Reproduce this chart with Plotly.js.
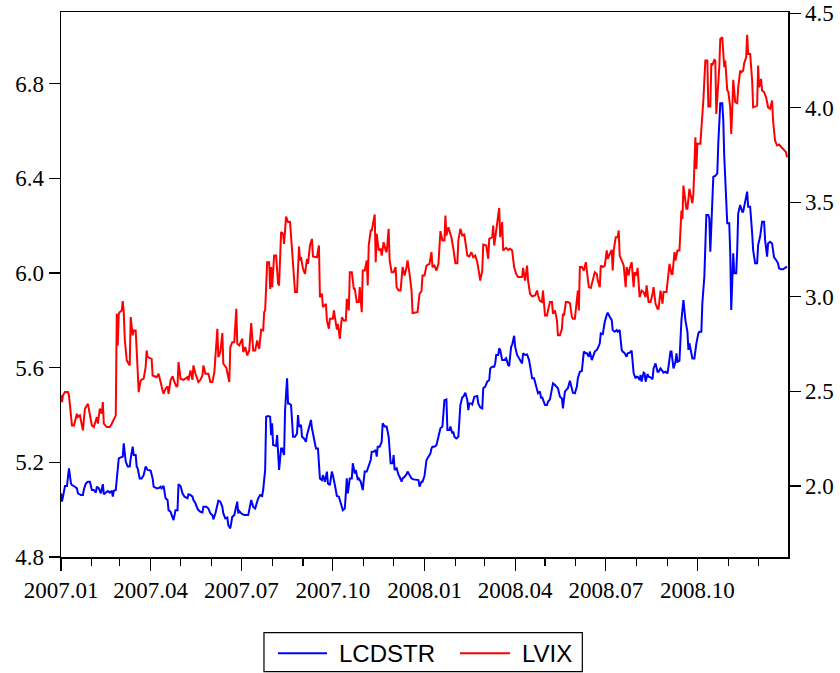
<!DOCTYPE html>
<html>
<head>
<meta charset="utf-8">
<script src="https://cdn.plot.ly/plotly-3.0.1.min.js"></script>
<style>
  html, body { margin: 0; padding: 0; background: #fff; }
  #chart { width: 840px; height: 673px; }
</style>
</head>
<body>
<div id="chart"></div>
<script>
// Days since 2007-01-01 and values
const lvixDays = [0,1,2,4,7,8,11,13,16,17,19,21,22,24,27,31,33,36,37,39,41,42,43,46,49,51,54,55,56,57,58,59,61,62,63,64,66,69,70,72,73,75,77,78,80,83,85,86,87,91,92,96,98,100,102,103,105,107,108,110,112,114,116,117,118,120,123,127,128,130,132,133,135,138,140,142,143,145,148,150,152,154,157,158,160,162,163,166,168,169,170,172,174,175,176,177,179,182,183,185,187,189,191,193,195,197,199,201,203,204,205,207,209,210,211,212,214,216,218,219,221,223,224,226,228,230,232,233,235,237,239,240,241,243,245,247,248,250,252,253,257,259,260,262,263,266,267,269,270,273,274,277,278,280,282,284,286,287,289,290,292,294,295,297,299,300,302,303,305,307,308,309,311,312,313,315,316,317,319,321,322,324,326,327,329,330,332,334,336,337,339,341,343,345,347,348,350,352,353,356,358,360,362,363,365,367,370,372,373,375,377,379,381,383,385,386,387,389,390,392,394,396,398,399,401,403,405,406,408,410,412,414,416,418,419,421,423,424,427,429,430,433,434,435,437,439,440,441,443,444,447,449,451,453,455,457,459,461,463,464,466,468,469,471,473,476,478,479,481,483,484,486,488,489,491,493,494,496,498,499,501,503,504,505,507,509,511,513,514,516,518,519,520,521,523,525,527,528,530,532,534,536,538,539,541,542,544,546,548,549,551,553,554,555,557,559,560,561,563,565,567,568,570,571,573,575,576,578,579,581,583,585,587,588,590,592,594,595,597,599,600,602,604,605,608,609,611,613,614,616,617,619,621,623,624,625,628,629,631,632,634,635,637,638,639,642,644,645,647,649,650,652,653,654,656,657,658,660,661,662,664,666,667,669,670,672,673,674,675,677,679,680,682,683,685,686,688,689,690,692,694,695,697,699,700,701,703,704,706,708,710,712,714,715,717,719,721,723,725,726,728,729];
const lvixValues = [2.479,2.443,2.479,2.496,2.496,2.479,2.320,2.320,2.382,2.364,2.373,2.329,2.294,2.408,2.434,2.320,2.311,2.364,2.329,2.408,2.382,2.443,2.329,2.311,2.311,2.329,2.364,2.373,2.910,2.743,2.910,2.919,2.928,2.977,2.919,2.778,2.664,2.637,2.893,2.796,2.822,2.822,2.611,2.496,2.558,2.567,2.628,2.716,2.681,2.672,2.584,2.575,2.593,2.540,2.505,2.487,2.514,2.526,2.487,2.558,2.579,2.549,2.523,2.531,2.655,2.567,2.561,2.575,2.558,2.611,2.561,2.637,2.593,2.549,2.561,2.584,2.637,2.593,2.593,2.549,2.549,2.602,2.831,2.681,2.708,2.808,2.646,2.625,2.575,2.549,2.734,2.760,2.760,2.857,2.937,2.752,2.743,2.778,2.708,2.734,2.690,2.716,2.861,2.716,2.716,2.769,2.725,2.826,2.822,2.919,2.928,3.183,3.183,3.042,3.157,3.051,3.218,3.218,3.069,3.060,3.342,3.333,3.280,3.424,3.395,3.395,3.245,3.121,3.025,3.025,3.266,3.192,3.209,3.148,3.121,3.201,3.174,3.271,3.306,3.213,3.209,3.271,2.998,3.016,2.945,2.963,2.875,2.831,2.884,2.884,2.928,2.826,2.857,2.778,2.892,2.875,2.875,2.989,2.928,3.130,3.130,3.042,3.042,2.972,2.972,3.051,2.919,3.139,3.139,3.192,3.060,3.271,3.350,3.350,3.377,3.435,3.183,3.333,3.245,3.254,3.218,3.289,3.245,3.236,3.359,3.192,3.130,3.130,3.157,3.051,3.033,3.033,3.157,3.113,3.157,3.192,3.121,3.033,2.914,2.919,2.919,3.016,3.030,3.113,3.113,3.165,3.174,3.236,3.157,3.165,3.139,3.174,3.347,3.298,3.298,3.430,3.324,3.368,3.350,3.315,3.254,3.178,3.178,3.298,3.359,3.324,3.329,3.298,3.218,3.213,3.236,3.209,3.218,3.183,3.157,3.086,3.139,3.276,3.271,3.201,3.306,3.315,3.377,3.271,3.350,3.439,3.470,3.315,3.395,3.245,3.259,3.248,3.254,3.245,3.157,3.121,3.104,3.104,3.104,3.153,3.086,3.165,3.086,3.016,3.002,3.007,3.033,3.007,2.977,2.972,3.033,2.901,2.901,2.928,2.972,2.972,2.910,2.928,2.875,2.796,2.796,2.831,2.910,2.901,2.972,2.972,2.966,2.893,2.884,2.884,2.998,3.033,2.928,3.157,3.157,3.139,3.183,3.139,3.051,3.047,3.086,3.130,3.121,3.086,3.051,3.165,3.157,3.165,3.245,3.201,3.227,3.248,3.139,3.245,3.315,3.315,3.351,3.218,3.192,3.166,3.051,3.157,3.113,3.148,3.183,3.051,3.130,3.113,3.153,2.998,3.033,3.025,2.998,3.060,2.972,2.972,3.016,3.051,2.963,2.937,2.937,3.033,2.963,3.025,3.025,3.086,3.174,3.121,3.121,3.236,3.192,3.245,3.245,3.456,3.412,3.588,3.465,3.465,3.571,3.544,3.495,3.544,3.844,3.676,3.809,3.809,3.950,4.038,4.249,4.249,4.006,4.006,4.235,4.223,4.253,4.249,3.967,4.126,4.214,4.363,4.372,4.214,4.249,4.091,4.087,4.002,3.861,3.985,4.147,4.029,4.024,4.108,4.196,4.187,4.196,4.235,4.267,4.386,4.284,4.284,4.143,4.002,4.006,4.011,4.223,4.108,4.152,4.091,4.082,4.055,4.002,3.994,4.038,3.932,3.826,3.800,3.805,3.794,3.782,3.773,3.765,3.738];

const lcdstrDays = [0,1,2,4,6,7,8,10,11,14,16,17,20,22,23,25,27,29,31,33,35,36,38,40,42,43,46,47,49,51,52,53,55,57,58,60,62,63,64,65,67,69,70,72,73,75,76,77,79,81,83,85,87,90,92,93,96,98,100,101,103,105,107,108,110,112,113,115,117,118,120,122,124,127,128,130,132,133,135,137,138,140,142,143,146,148,149,150,152,153,155,157,158,160,162,163,165,167,168,170,172,174,175,177,178,179,181,184,188,190,191,193,195,197,198,200,202,203,205,206,208,210,211,212,213,216,217,219,221,222,224,225,227,228,229,231,232,233,235,237,238,239,241,242,244,246,247,249,251,252,254,256,258,260,262,263,265,267,268,270,272,273,275,277,279,281,283,285,287,288,290,292,293,295,296,298,299,301,303,304,305,307,309,311,312,314,316,317,318,320,322,323,325,327,329,331,333,334,335,337,339,340,342,343,345,347,348,350,352,354,357,359,360,362,363,365,367,369,371,372,373,375,377,379,381,383,384,385,387,388,390,391,393,394,395,397,399,400,401,403,404,406,408,409,410,412,413,415,417,418,419,421,423,424,426,428,430,431,433,435,436,437,439,440,441,443,445,447,449,450,452,453,455,456,458,460,461,463,464,466,468,470,472,473,475,477,479,481,482,483,485,486,488,489,491,493,494,496,498,499,501,503,504,505,506,508,509,511,513,514,516,518,519,521,523,524,525,527,528,530,531,533,534,536,538,539,541,542,544,546,548,549,551,553,554,556,558,559,561,563,564,566,568,569,571,573,575,577,578,579,581,582,583,585,586,587,589,590,592,594,595,597,599,600,602,604,605,607,609,610,612,613,615,617,618,619,621,623,624,625,627,629,630,631,632,634,636,637,638,640,641,643,644,646,647,648,650,651,652,653,654,655,657,659,660,661,662,664,665,666,668,669,671,672,673,674,675,676,678,679,680,682,684,685,687,689,690,692,694,695,697,699,700,702,704,706,707,709,710,712,714,716,718,720,721,723,725,727,729];
const lcdstrValues = [5.069,5.034,5.055,5.100,5.100,5.139,5.175,5.111,5.104,5.097,5.090,5.069,5.062,5.062,5.086,5.111,5.118,5.118,5.083,5.083,5.072,5.097,5.090,5.069,5.108,5.065,5.079,5.079,5.072,5.080,5.055,5.080,5.083,5.182,5.217,5.221,5.224,5.280,5.238,5.203,5.182,5.182,5.217,5.266,5.231,5.231,5.182,5.175,5.132,5.132,5.146,5.182,5.168,5.165,5.132,5.097,5.090,5.090,5.097,5.090,5.100,5.048,5.041,4.998,4.991,4.970,4.956,4.998,4.998,5.108,5.100,5.069,5.055,5.048,5.065,5.062,5.055,5.041,5.027,5.005,4.998,4.991,4.988,5.012,5.012,5.005,4.991,4.984,4.977,4.959,4.984,5.027,5.038,5.034,5.012,4.984,4.963,4.967,4.935,4.921,4.970,4.977,4.998,5.034,4.984,4.994,4.984,4.977,4.977,5.012,5.041,5.012,5.005,5.034,5.048,5.062,5.058,5.083,5.168,5.393,5.396,5.393,5.315,5.365,5.273,5.269,5.315,5.168,5.259,5.259,5.231,5.421,5.555,5.449,5.449,5.442,5.393,5.308,5.308,5.322,5.400,5.351,5.358,5.308,5.301,5.287,5.315,5.344,5.379,5.344,5.294,5.259,5.259,5.132,5.125,5.146,5.118,5.161,5.111,5.104,5.161,5.146,5.104,5.058,5.055,5.027,4.998,5.005,5.132,5.069,5.132,5.132,5.196,5.153,5.168,5.125,5.132,5.118,5.083,5.125,5.161,5.161,5.182,5.210,5.245,5.245,5.252,5.224,5.266,5.266,5.287,5.365,5.351,5.351,5.308,5.196,5.196,5.231,5.168,5.175,5.146,5.139,5.118,5.132,5.139,5.150,5.161,5.146,5.132,5.128,5.125,5.125,5.097,5.118,5.118,5.142,5.210,5.224,5.238,5.259,5.266,5.266,5.273,5.308,5.344,5.351,5.393,5.463,5.466,5.337,5.337,5.351,5.322,5.330,5.308,5.301,5.308,5.379,5.442,5.475,5.477,5.494,5.463,5.421,5.449,5.449,5.445,5.477,5.480,5.480,5.449,5.432,5.428,5.513,5.520,5.541,5.548,5.597,5.604,5.604,5.618,5.654,5.654,5.682,5.675,5.632,5.632,5.640,5.611,5.607,5.689,5.696,5.735,5.689,5.654,5.640,5.632,5.618,5.661,5.654,5.656,5.632,5.583,5.555,5.555,5.520,5.492,5.499,5.470,5.477,5.449,5.442,5.442,5.456,5.466,5.520,5.534,5.527,5.520,5.513,5.477,5.470,5.428,5.470,5.499,5.509,5.513,5.545,5.506,5.494,5.492,5.520,5.555,5.583,5.586,5.625,5.668,5.661,5.661,5.646,5.668,5.632,5.646,5.668,5.675,5.682,5.703,5.745,5.742,5.794,5.823,5.832,5.815,5.801,5.759,5.752,5.759,5.752,5.759,5.675,5.668,5.661,5.646,5.661,5.663,5.672,5.576,5.555,5.562,5.562,5.548,5.569,5.541,5.579,5.576,5.541,5.573,5.562,5.559,5.551,5.597,5.618,5.583,5.583,5.597,5.583,5.579,5.583,5.576,5.604,5.668,5.668,5.597,5.625,5.661,5.625,5.629,5.801,5.858,5.886,5.801,5.752,5.675,5.703,5.682,5.639,5.639,5.675,5.703,5.745,5.752,5.752,5.872,5.985,6.083,6.245,6.245,6.231,6.090,6.196,6.287,6.407,6.410,6.421,6.548,6.647,6.717,6.717,6.647,6.492,6.337,6.210,6.210,6.083,5.844,5.970,6.083,5.999,5.999,6.097,6.252,6.287,6.259,6.259,6.301,6.344,6.280,6.280,6.168,6.097,6.041,6.041,6.118,6.154,6.217,6.217,6.140,6.069,6.125,6.132,6.125,6.066,6.055,6.041,6.020,6.016,6.016,6.020,6.027];

const leftTicks = [4.8, 5.2, 5.6, 6.0, 6.4, 6.8];
const rightTicks = [2.0, 2.5, 3.0, 3.5, 4.0, 4.5];
const seriesNames = ['LCDSTR', 'LVIX'];
const seriesColors = ['#0000FF', '#FF0000'];

const START = Date.UTC(2007, 0, 1);
const toDate = d => new Date(START + d * 86400000).toISOString().slice(0, 10);

const serif = '"Liberation Serif", serif';
const sans = '"Liberation Sans", sans-serif';

const traces = [
  { x: lcdstrDays.map(toDate), y: lcdstrValues, name: seriesNames[0], type: 'scatter', mode: 'lines',
    line: { color: seriesColors[0], width: 2 }, yaxis: 'y' },
  { x: lvixDays.map(toDate), y: lvixValues, name: seriesNames[1], type: 'scatter', mode: 'lines',
    line: { color: seriesColors[1], width: 2 }, yaxis: 'y2' }
];

const axisCommon = {
  showgrid: false, zeroline: false, showline: true, linecolor: '#000', linewidth: 1.5,
  ticks: 'outside', tickcolor: '#000', tickwidth: 1.2,
  tickfont: { family: serif, size: 23, color: '#000' }
};

// Legend drawn in paper coordinates below the plot
const legendY = -0.1767;
const shapes = [
  { type: 'rect', xref: 'paper', yref: 'paper', x0: 0.2792, x1: 0.7171, y0: -0.2105, y1: -0.1389,
    line: { color: '#000', width: 1.2 }, fillcolor: '#fff' },
  { type: 'line', xref: 'paper', yref: 'paper', x0: 0.2985, x1: 0.3659, y0: legendY, y1: legendY,
    line: { color: seriesColors[0], width: 2 } },
  { type: 'line', xref: 'paper', yref: 'paper', x0: 0.5488, x1: 0.6176, y0: legendY, y1: legendY,
    line: { color: seriesColors[1], width: 2 } }
];
const annotations = [
  { xref: 'paper', yref: 'paper', x: 0.3796, y: legendY, xanchor: 'left', yanchor: 'middle',
    text: seriesNames[0], showarrow: false, font: { family: sans, size: 24, color: '#000' } },
  { xref: 'paper', yref: 'paper', x: 0.6314, y: legendY, xanchor: 'left', yanchor: 'middle',
    text: seriesNames[1], showarrow: false, font: { family: sans, size: 24, color: '#000' } }
];

const layout = {
  width: 840, height: 673,
  margin: { l: 61, r: 52, t: 12, b: 116, autoexpand: false },
  paper_bgcolor: '#fff', plot_bgcolor: '#fff',
  font: { family: serif, color: '#000' },
  showlegend: false,
  xaxis: Object.assign({}, axisCommon, {
    type: 'date', range: ['2007-01-01', '2008-12-31'],
    tick0: '2007-01-01', dtick: 'M3', tickformat: '%Y.%m', ticklen: 12, mirror: true,
    minor: { dtick: 'M1', ticks: 'outside', ticklen: 7, tickcolor: '#000', tickwidth: 1.2, showgrid: false }
  }),
  yaxis: Object.assign({}, axisCommon, {
    range: [4.8, 7.103], tickvals: leftTicks, tickformat: '.1f', ticklen: 11, side: 'left'
  }),
  yaxis2: Object.assign({}, axisCommon, {
    range: [1.624, 4.506], tickvals: rightTicks, tickformat: '.1f', ticklen: 11,
    side: 'right', overlaying: 'y'
  }),
  shapes: shapes,
  annotations: annotations
};

Plotly.newPlot('chart', traces, layout, { displayModeBar: false, staticPlot: true });
</script>
</body>
</html>
